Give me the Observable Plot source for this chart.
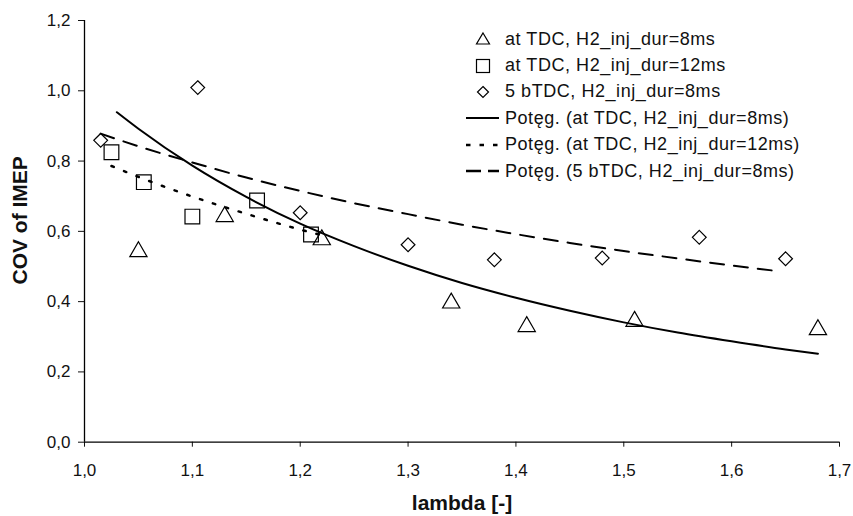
<!DOCTYPE html>
<html>
<head>
<meta charset="utf-8">
<script src="https://cdn.jsdelivr.net/npm/d3@7"></script>
<script src="https://cdn.jsdelivr.net/npm/@observablehq/plot@0.6"></script>
<style>
  html, body { margin: 0; padding: 0; background: #fff; }
  #wrap { position: relative; width: 853px; height: 516px; font-family: "Liberation Sans", Arial, sans-serif; }
  #legend { position: absolute; left: 462px; top: 26px; font-size: 18px; letter-spacing: 0.55px; color: #111; }
  .row { height: 26.4px; display: flex; align-items: center; white-space: nowrap; }
  .row svg { width: 40px; height: 26px; flex: none; margin-right: 3px; }
</style>
</head>
<body>
<div id="wrap"></div>
<script>
// Measured series (lambda vs COV of IMEP)
const tdc8_x  = [1.05, 1.13, 1.22, 1.34, 1.41, 1.51, 1.68];
const tdc8_y  = [0.542, 0.642, 0.576, 0.396, 0.329, 0.344, 0.320];
const tdc12_x = [1.025, 1.055, 1.10, 1.16, 1.21];
const tdc12_y = [0.825, 0.740, 0.642, 0.688, 0.591];
const btdc5_x = [1.015, 1.105, 1.20, 1.30, 1.38, 1.48, 1.57, 1.65];
const btdc5_y = [0.859, 1.009, 0.653, 0.562, 0.519, 0.524, 0.583, 0.522];

// Power trendlines
const trend8_x  = [1.03, 1.05, 1.10, 1.15, 1.20, 1.25, 1.30, 1.35, 1.40, 1.45, 1.50, 1.55, 1.60, 1.65, 1.68];
const trend8_y  = [0.939, 0.892, 0.787, 0.698, 0.622, 0.558, 0.502, 0.453, 0.411, 0.374, 0.341, 0.312, 0.287, 0.264, 0.252];
const trend12_x = [1.025, 1.05, 1.10, 1.15, 1.20, 1.22];
const trend12_y = [0.786, 0.755, 0.699, 0.650, 0.605, 0.589];
const trend5_x  = [1.015, 1.05, 1.10, 1.15, 1.20, 1.25, 1.30, 1.35, 1.40, 1.45, 1.50, 1.55, 1.60, 1.645];
const trend5_y  = [0.878, 0.842, 0.796, 0.753, 0.715, 0.680, 0.649, 0.619, 0.592, 0.567, 0.544, 0.523, 0.503, 0.486];

const xTicks = [1.0, 1.1, 1.2, 1.3, 1.4, 1.5, 1.6, 1.7];
const yTicks = [0.0, 0.2, 0.4, 0.6, 0.8, 1.0, 1.2];
const xTitle = "lambda [-]";
const yTitle = "COV of IMEP";
const legendLabels = [
  "at TDC, H2_inj_dur=8ms",
  "at TDC, H2_inj_dur=12ms",
  "5 bTDC, H2_inj_dur=8ms",
  "Potęg. (at TDC, H2_inj_dur=8ms)",
  "Potęg. (at TDC, H2_inj_dur=12ms)",
  "Potęg. (5 bTDC, H2_inj_dur=8ms)"
];

const zip = (xs, ys) => xs.map((x, i) => ({x, y: ys[i]}));
const fmt = d => d.toFixed(1).replace(".", ",");

const chart = Plot.plot({
  width: 853,
  height: 516,
  marginLeft: 84,
  marginRight: 14,
  marginTop: 20,
  marginBottom: 74.3,
  style: {fontFamily: "'Liberation Sans', Arial, sans-serif", fontSize: "17px", color: "#111", background: "#fff"},
  x: {domain: [1.0, 1.7], ticks: xTicks, tickFormat: fmt, label: null},
  y: {domain: [0, 1.2], ticks: yTicks, tickFormat: fmt, label: null},
  marks: [
    Plot.axisX({ticks: xTicks, tickFormat: fmt, tickSize: 5, tickPadding: 17, fontSize: 17, label: null}),
    Plot.axisY({ticks: yTicks, tickFormat: fmt, tickSize: 6, tickPadding: 8, fontSize: 17, label: null}),
    Plot.ruleX([1.0], {stroke: "#000", strokeWidth: 1.3}),
    Plot.ruleY([0], {stroke: "#000", strokeWidth: 1.3}),
    Plot.line(zip(trend8_x, trend8_y), {x: "x", y: "y", stroke: "#000", strokeWidth: 2, curve: "monotone-x"}),
    Plot.line(zip(trend12_x, trend12_y), {x: "x", y: "y", stroke: "#000", strokeWidth: 2.5, strokeDasharray: "2.5,11", curve: "monotone-x"}),
    Plot.line(zip(trend5_x, trend5_y), {x: "x", y: "y", stroke: "#000", strokeWidth: 2, strokeDasharray: "14,10", curve: "monotone-x"}),
    Plot.dot(zip(tdc8_x, tdc8_y), {x: "x", y: "y", symbol: "triangle", r: 6.4, stroke: "#000", strokeWidth: 1.2, fill: "none"}),
    Plot.dot(zip(tdc12_x, tdc12_y), {x: "x", y: "y", symbol: "square", r: 8.3, stroke: "#000", strokeWidth: 1.2, fill: "none"}),
    Plot.dot(zip(btdc5_x, btdc5_y), {x: "x", y: "y", symbol: "diamond2", r: 6.2, stroke: "#000", strokeWidth: 1.2, fill: "none"}),
    Plot.text([xTitle], {frameAnchor: "bottom", lineAnchor: "middle", textAnchor: "middle", dy: 61, fontSize: 21, fontWeight: "bold", fill: "#111"}),
    Plot.text([yTitle], {frameAnchor: "left", lineAnchor: "middle", textAnchor: "middle", dx: -64, dy: -11, rotate: -90, fontSize: 21, fontWeight: "bold", fill: "#111"})
  ]
});

const wrap = document.getElementById("wrap");
wrap.appendChild(chart);

// Legend
const legend = document.createElement("div");
legend.id = "legend";
const sym = [
  '<polygon points="21,7 27.5,18 14.5,18" fill="none" stroke="#000" stroke-width="1.2"/>',
  '<rect x="14.5" y="6.5" width="13" height="13" fill="none" stroke="#000" stroke-width="1.2"/>',
  '<polygon points="21,7.5 26.5,13 21,18.5 15.5,13" fill="none" stroke="#000" stroke-width="1.2"/>',
  '<line x1="4" y1="13" x2="37" y2="13" stroke="#000" stroke-width="2.2"/>',
  '<line x1="4" y1="13" x2="37" y2="13" stroke="#000" stroke-width="2.5" stroke-dasharray="4.5,9"/>',
  '<line x1="4" y1="13" x2="37" y2="13" stroke="#000" stroke-width="2.5" stroke-dasharray="15,7"/>'
];
legendLabels.forEach((lab, i) => {
  const row = document.createElement("div");
  row.className = "row";
  row.innerHTML = `<svg viewBox="0 0 40 26">${sym[i]}</svg><span>${lab}</span>`;
  legend.appendChild(row);
});
wrap.appendChild(legend);
</script>
</body>
</html>
